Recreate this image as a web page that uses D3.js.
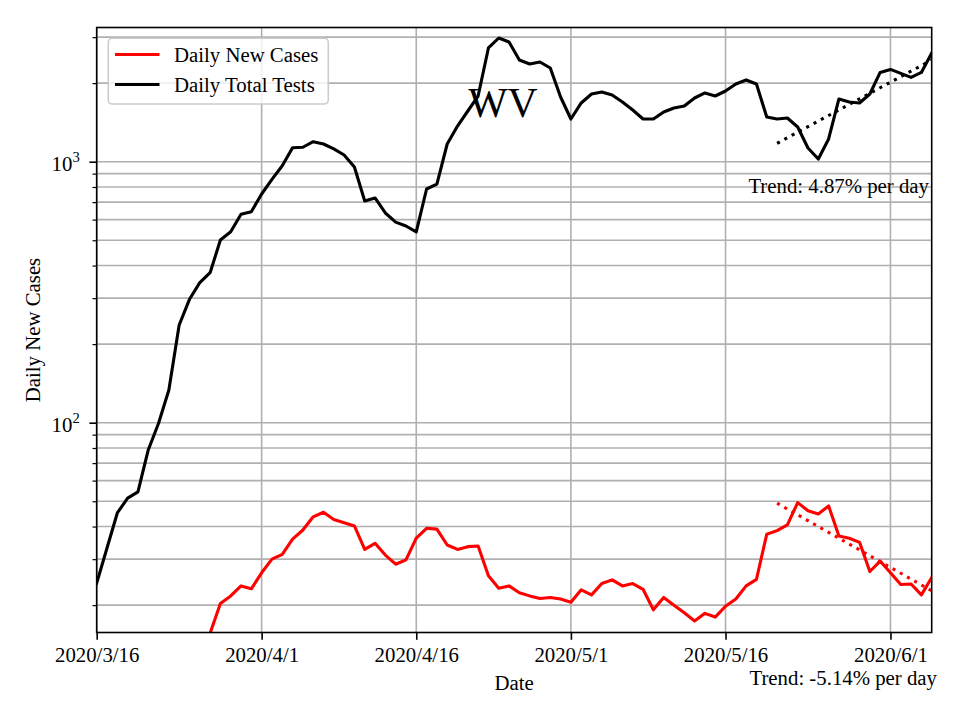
<!DOCTYPE html>
<html>
<head>
<meta charset="utf-8">
<script src="https://cdn.jsdelivr.net/npm/d3@7"></script>
<style>
  html, body { margin: 0; padding: 0; background: #fff; }
  svg { display: block; }
  text { font-family: "Liberation Serif", "Times New Roman", serif; }
</style>
</head>
<body>
<svg id="chart" width="960" height="720"></svg>
<script>
// ---------------- data ----------------
const startDate = "2020-03-16";
const endDate = "2020-06-05";
// Daily Total Tests, one value per day starting 2020-03-16
const dailyTests = [
  24.3, 33.1, 45.1, 51.4, 54.3, 78.6, 99.5, 133.5, 236.7, 297,
  344, 375.5, 501, 539, 629, 643, 752, 856, 965, 1131,
  1136, 1193, 1169, 1119, 1061, 954, 707, 726, 636, 587,
  567, 538, 786, 821, 1169, 1370, 1564, 1785, 2727, 2978,
  2874, 2453, 2367, 2410, 2286, 1770, 1457, 1679, 1817, 1849,
  1801, 1693, 1578, 1457, 1457, 1550, 1606, 1634, 1754, 1834,
  1785, 1866, 1985, 2056, 1985, 1483, 1457, 1470, 1358, 1128,
  1024, 1222, 1739, 1693, 1679, 1817, 2198, 2257, 2179, 2104,
  2198, 2609
];
// Daily New Cases, one value per day starting 2020-03-16 (null = not shown)
const dailyCases = [
  null, null, null, null, null, null, null, null, null, null,
  12, 15.6, 20.3, 21.7, 23.7, 23.1, 26.6, 30.0, 31.3, 35.8,
  38.8, 43.6, 45.4, 42.6, 41.4, 40.2, 32.7, 34.5, 31.1, 28.7,
  29.8, 36.1, 39.4, 39.1, 34.0, 32.7, 33.5, 33.7, 25.9, 23.2,
  23.7, 22.3, 21.7, 21.2, 21.4, 21.1, 20.5, 22.9, 21.9, 24.2,
  25.0, 23.7, 24.2, 23.0, 19.2, 21.4, 20.0, 18.7, 17.4, 18.6,
  18.0, 19.8, 21.1, 23.7, 25.1, 37.4, 38.6, 40.6, 49.4, 46.0,
  44.7, 48.0, 36.8, 36.1, 34.8, 26.9, 29.5, 26.6, 24.0, 24.1,
  21.9, 25.5
];
const trendDays = 16; // trend fitted over the last 16 days
const testsTrendLabel = "Trend: 4.87% per day";
const casesTrendLabel = "Trend: -5.14% per day";
const xTickDates = ["2020-03-16", "2020-04-01", "2020-04-16", "2020-05-01", "2020-05-16", "2020-06-01"];
const yMajorTicks = [100, 1000];
const yMinorTicks = [20, 30, 40, 50, 60, 70, 80, 90, 200, 300, 400, 500, 600, 700, 800, 900, 2000, 3000];
const yDomain = [15.71, 3267];
const seriesNames = ["Daily New Cases", "Daily Total Tests"];
const titleText = "WV";

// ---------------- layout ----------------
const svg = d3.select("#chart");
const L = 96.7, R = 931.7, T = 27.5, B = 632.5;
const FS = 20.8;
const parse = d3.utcParse("%Y-%m-%d");
const t0 = parse(startDate);
const dayDate = i => d3.utcDay.offset(t0, i);

const x = d3.scaleUtc().domain([parse(startDate), parse(endDate)]).range([L, R]);
const y = d3.scaleLog().domain(yDomain).range([B, T]);

// clip
svg.append("defs").append("clipPath").attr("id", "clip")
  .append("rect").attr("x", L).attr("y", T).attr("width", R - L).attr("height", B - T);

// grid
const grid = svg.append("g");
const gridColor = "#b0b0b0", gridW = 1.6;
grid.selectAll("line.gy").data(yMajorTicks.concat(yMinorTicks)).join("line")
  .attr("x1", L).attr("x2", R)
  .attr("y1", d => y(d)).attr("y2", d => y(d))
  .attr("stroke", gridColor).attr("stroke-width", gridW);
grid.selectAll("line.gx").data(xTickDates.map(parse)).join("line")
  .attr("x1", d => x(d)).attr("x2", d => x(d))
  .attr("y1", T).attr("y2", B)
  .attr("stroke", gridColor).attr("stroke-width", gridW);

// lines
const plot = svg.append("g").attr("clip-path", "url(#clip)");
const line = d3.line()
  .defined(d => d.v != null)
  .x(d => x(d.date)).y(d => y(d.v));
const casesPts = dailyCases.map((v, i) => ({ date: dayDate(i), v }));
const testsPts = dailyTests.map((v, i) => ({ date: dayDate(i), v }));

plot.append("path").datum(casesPts).attr("d", line)
  .attr("fill", "none").attr("stroke", "#ff0000").attr("stroke-width", 3.1)
  .attr("stroke-linejoin", "round").attr("stroke-linecap", "square");
plot.append("path").datum(testsPts).attr("d", line)
  .attr("fill", "none").attr("stroke", "#000000").attr("stroke-width", 3.1)
  .attr("stroke-linejoin", "round").attr("stroke-linecap", "square");

// log-linear trend fit over last N days
function trend(values) {
  const n = values.length;
  const pts = values.slice(n - trendDays).map((v, k) => ({ i: n - trendDays + k, ly: Math.log10(v) }));
  const mx = d3.mean(pts, p => p.i), my = d3.mean(pts, p => p.ly);
  const sxy = d3.sum(pts, p => (p.i - mx) * (p.ly - my));
  const sxx = d3.sum(pts, p => (p.i - mx) ** 2);
  const b = sxy / sxx, a = my - b * mx;
  return pts.map(p => ({ date: dayDate(p.i), v: Math.pow(10, a + b * p.i) }));
}
plot.append("path").datum(trend(dailyTests)).attr("d", line)
  .attr("fill", "none").attr("stroke", "#000").attr("stroke-width", 3.1)
  .attr("stroke-dasharray", "3.1,5.2");
plot.append("path").datum(trend(dailyCases)).attr("d", line)
  .attr("fill", "none").attr("stroke", "#ff0000").attr("stroke-width", 3.1)
  .attr("stroke-dasharray", "3.1,5.2");

// axes
const xAxis = d3.axisBottom(x).tickValues(xTickDates.map(parse))
  .tickFormat(d3.utcFormat("%Y/%-m/%-d")).tickSize(7.3).tickPadding(7.4);
const gx = svg.append("g").attr("transform", `translate(0,${B})`).call(xAxis);
gx.select(".domain").remove();
gx.selectAll("line").attr("stroke", "#000").attr("stroke-width", 1.6);
gx.selectAll("text").attr("font-size", FS).attr("fill", "#000")
  .attr("font-family", "'Liberation Serif','Times New Roman',serif");

const gyMinor = svg.append("g").attr("transform", `translate(${L},0)`)
  .call(d3.axisLeft(y).tickValues(yMinorTicks).tickSize(4.2).tickFormat(""));
gyMinor.select(".domain").remove();
gyMinor.selectAll("line").attr("stroke", "#000").attr("stroke-width", 1.2);

const gyMajor = svg.append("g").attr("transform", `translate(${L},0)`)
  .call(d3.axisLeft(y).tickValues(yMajorTicks).tickSize(7.3).tickFormat(""));
gyMajor.select(".domain").remove();
gyMajor.selectAll("line").attr("stroke", "#000").attr("stroke-width", 1.6);

// y tick labels 10^n
yMajorTicks.forEach(v => {
  const t = svg.append("text").attr("x", L - 17).attr("y", y(v) + 9.8)
    .attr("text-anchor", "end").attr("font-size", FS).attr("fill", "#000");
  t.append("tspan").text("10");
  t.append("tspan").attr("font-size", 14.6).attr("dy", -9.5).text(String(Math.round(Math.log10(v))));
});

// frame
svg.append("rect").attr("x", L).attr("y", T).attr("width", R - L).attr("height", B - T)
  .attr("fill", "none").attr("stroke", "#000").attr("stroke-width", 1.6);

// axis labels
svg.append("text").attr("x", (L + R) / 2).attr("y", 690).attr("text-anchor", "middle")
  .attr("font-size", FS).text("Date");
svg.append("text").attr("transform", `translate(40,${(T + B) / 2}) rotate(-90)`)
  .attr("text-anchor", "middle").attr("font-size", FS).text("Daily New Cases");

// title
svg.append("text").attr("x", 503).attr("y", 117).attr("text-anchor", "middle")
  .attr("font-size", 41.7).text(titleText);

// trend labels
svg.append("text").attr("x", 929).attr("y", 193).attr("text-anchor", "end")
  .attr("font-size", FS).text(testsTrendLabel);
svg.append("text").attr("x", 937).attr("y", 685).attr("text-anchor", "end")
  .attr("font-size", FS).text(casesTrendLabel);

// legend
const lg = svg.append("g");
lg.append("rect").attr("x", 108.3).attr("y", 38.3).attr("width", 220).attr("height", 65.7)
  .attr("rx", 4).attr("fill", "#ffffff").attr("fill-opacity", 0.8)
  .attr("stroke", "#cccccc").attr("stroke-width", 1.6);
const legendColors = ["#ff0000", "#000000"];
seriesNames.forEach((name, i) => {
  const yy = 54.5 + i * 30;
  lg.append("line").attr("x1", 115).attr("x2", 159.5).attr("y1", yy).attr("y2", yy)
    .attr("stroke", legendColors[i]).attr("stroke-width", 3.1);
  lg.append("text").attr("x", 174).attr("y", yy + 7).attr("font-size", FS).text(name);
});
</script>
</body>
</html>
